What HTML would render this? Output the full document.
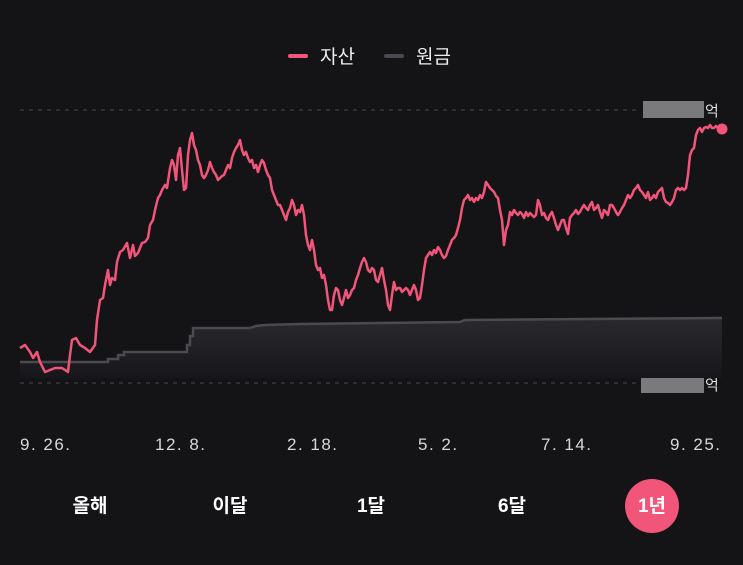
<!DOCTYPE html>
<html><head><meta charset="utf-8"><style>
body{margin:0;width:743px;height:565px;background:#141316;overflow:hidden;font-family:"Liberation Sans","Noto Sans CJK KR",sans-serif;}
</style></head><body>
<svg width="743" height="565" xmlns="http://www.w3.org/2000/svg" style="position:absolute;left:0;top:0">
<defs><linearGradient id="g" x1="0" y1="0" x2="0" y2="1"><stop offset="0" stop-color="#2a2a2e"/><stop offset="1" stop-color="#17161a"/></linearGradient></defs>
<line x1="290" y1="56" x2="306" y2="56" stroke="#f2557a" stroke-width="4" stroke-linecap="round"/>
<text x="320" y="63" fill="#eee" font-size="19">자산</text>
<line x1="386" y1="56" x2="402" y2="56" stroke="#4a4b50" stroke-width="4" stroke-linecap="round"/>
<text x="416" y="63" fill="#eee" font-size="19">원금</text>
<line x1="20" y1="110" x2="640" y2="110" stroke="#4a4a4e" stroke-dasharray="4,5"/>
<line x1="20" y1="383" x2="640" y2="383" stroke="#4a4a4e" stroke-dasharray="4,5"/>
<rect x="643" y="101" width="61" height="17" fill="#7a7a7c"/>
<rect x="641" y="376" width="63" height="17" fill="#7a7a7c"/>
<text x="705" y="116" fill="#ddd" font-size="15">억</text>
<text x="705" y="390" fill="#ddd" font-size="15">억</text>
<path d="M20,362 L108,362 108,359 118,359 118,355 124,355 124,352 187,352 187,345 190,345 190,336 193,336 193,328 250,328 256,326 265,325 300,324 380,323 460,322 465,320 722,318 L722,378 L20,378 Z" fill="url(#g)"/>
<path d="M20,362 L108,362 108,359 118,359 118,355 124,355 124,352 187,352 187,345 190,345 190,336 193,336 193,328 250,328 256,326 265,325 300,324 380,323 460,322 465,320 722,318" fill="none" stroke="#4a4b50" stroke-width="2.5"/>
<polyline fill="none" stroke="#f2557a" stroke-width="2.5" stroke-linejoin="round" points="20,348 25,345 30,352 33,358 37,352 40,362 43,368 45,372 50,370 55,368 62,368 68,372 70,355 72,340 76,338 80,345 85,348 90,352 95,345 97,320 100,300 103,298 105,285 108,270 110,285 112,278 115,280 117,262 120,252 123,250 127,243 130,258 133,245 135,256 138,253 142,243 145,242 148,238 150,225 153,220 155,210 158,198 160,195 162,190 165,185 167,188 170,168 172,160 174,165 176,180 178,155 180,148 182,170 184,190 186,188 188,155 190,140 192,133 194,145 196,150 198,160 200,165 202,175 204,178 206,175 208,170 210,162 212,168 214,172 216,175 218,180 220,178 222,176 224,175 226,170 228,165 230,168 232,158 234,152 236,148 238,145 240,140 242,150 244,155 246,152 248,158 250,162 252,160 254,168 256,165 258,172 260,165 262,160 264,163 266,170 268,175 270,178 272,190 274,195 276,200 278,205 280,205 282,210 284,215 286,220 288,212 290,208 292,200 294,205 296,215 298,210 300,212 302,205 304,215 306,235 308,245 310,250 312,240 314,250 316,265 318,270 320,268 322,278 324,275 326,285 328,300 330,310 332,310 334,295 336,288 338,290 340,300 342,305 344,298 346,290 348,298 350,295 352,290 354,288 356,280 358,275 360,268 362,262 364,258 366,262 368,270 370,272 372,268 374,270 376,280 378,282 380,275 382,268 384,280 386,290 388,305 390,310 392,295 394,282 396,290 398,288 400,288 402,292 404,290 406,288 408,290 410,295 412,290 414,285 416,290 418,300 420,298 422,285 424,270 426,258 428,255 430,252 432,255 434,250 436,253 438,247 440,250 442,255 444,258 446,256 448,250 450,245 452,240 454,238 456,235 458,228 460,220 462,208 464,200 466,198 468,195 470,200 472,198 474,202 476,198 478,200 480,195 482,198 484,192 486,182 488,185 490,188 492,190 494,192 496,196 498,198 500,210 502,220 504,245 506,230 508,225 510,212 512,215 514,210 516,213 518,215 520,212 522,214 524,218 526,212 528,216 530,213 532,215 534,217 536,215 538,200 540,205 542,215 544,213 546,218 548,220 550,215 552,212 554,218 556,225 558,230 560,225 562,220 564,220 566,228 568,234 570,218 572,215 574,213 576,210 578,214 580,212 582,208 584,205 586,208 588,210 590,205 592,202 594,210 596,208 598,205 600,212 602,218 604,210 606,212 608,215 610,205 612,205 614,208 616,212 618,215 620,212 622,208 624,205 626,200 628,195 630,198 632,195 634,190 636,188 638,185 640,190 642,192 644,195 646,198 648,192 650,200 652,198 654,195 656,198 658,192 660,190 662,188 664,198 666,202 668,203 670,205 672,202 674,198 676,190 678,188 680,190 682,188 684,190 686,188 688,175 690,155 692,150 694,148 696,135 698,130 700,128 702,132 704,128 706,127 708,128 710,125 712,128 714,128 716,126 718,128 722,129"/>
<circle cx="722" cy="129" r="5.5" fill="#f2557a"/>
<g fill="#d8d8dc" font-size="17" letter-spacing="1.5">
<text x="20" y="450">9. 26.</text><text x="155" y="450">12. 8.</text><text x="287" y="450">2. 18.</text><text x="418" y="450">5. 2.</text><text x="541" y="450">7. 14.</text><text x="670" y="450">9. 25.</text>
</g>
<circle cx="652" cy="506" r="27" fill="#f2557a"/>
<g fill="#fff" font-size="19" font-weight="bold" text-anchor="middle">
<text x="90" y="512">올해</text><text x="230" y="512">이달</text><text x="371" y="512">1달</text><text x="512" y="512">6달</text><text x="652" y="512">1년</text>
</g>
</svg>
</body></html>
